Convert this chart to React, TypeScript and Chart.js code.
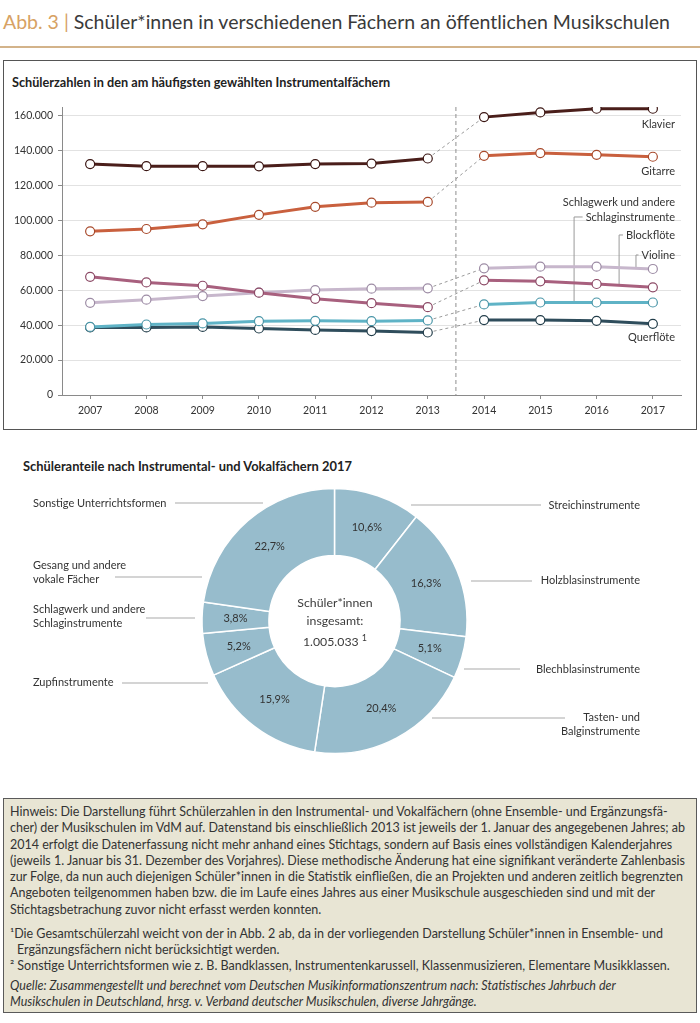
import React, { useEffect, useRef } from "react";
import { Chart, registerables } from "chart.js";

Chart.register(...registerables);

const FONT = "Lato, 'Open Sans', sans-serif";
Chart.defaults.font.family = FONT;

// ---------- Line chart data ----------
const years = ["2007", "2008", "2009", "2010", "2011", "2012", "2013", "2014", "2015", "2016", "2017"];
const klavier = [132300, 131100, 131100, 131000, 132300, 132600, 135500, 159200, 161900, 164000, 164000];
const gitarre = [93800, 95100, 97800, 103200, 107800, 110200, 110600, 137000, 138600, 137600, 136500];
const schlagwerk = [39000, 40400, 41000, 42300, 42500, 42300, 42700, 51900, 53000, 53000, 53000];
const blockfloete = [67700, 64500, 62600, 58600, 55100, 52600, 50300, 65700, 65100, 63600, 61700];
const violine = [52800, 54600, 56700, 58600, 60100, 60900, 61100, 72600, 73500, 73500, 72200];
const querfloete = [38700, 38700, 39000, 38100, 37300, 36600, 35800, 42900, 42900, 42500, 40800];
const seriesNames = ["Klavier", "Gitarre", "Schlagwerk und andere Schlaginstrumente", "Blockflöte", "Violine", "Querflöte"];
const yTickValues = [0, 20000, 40000, 60000, 80000, 100000, 120000, 140000, 160000];
const yMax = 165000;

// ---------- Doughnut data ----------
const shareLabels = [
  "Streichinstrumente",
  "Holzblasinstrumente",
  "Blechblasinstrumente",
  "Tasten- und Balginstrumente",
  "Zupfinstrumente",
  "Schlagwerk und andere Schlaginstrumente",
  "Gesang und andere vokale Fächer",
  "Sonstige Unterrichtsformen",
];
const shareValues = [10.6, 16.3, 5.1, 20.4, 15.9, 5.2, 3.8, 22.7];
const totalStudents = "1.005.033";

const fmtThousands = (v: number) => String(v).replace(/\B(?=(\d{3})+(?!\d))/g, ".");
const fmtPct = (v: number) => v.toFixed(1).replace(".", ",") + "%";
const interp = (arr: number[], f: number) => {
  const i = Math.floor(f);
  const t = f - i;
  const j = Math.min(i + 1, arr.length - 1);
  return arr[i] + (arr[j] - arr[i]) * t;
};

function LineChart() {
  const ref = useRef<HTMLCanvasElement>(null);
  useEffect(() => {
    const series = [klavier, gitarre, schlagwerk, blockfloete, violine, querfloete];
    const colors = ["#4a1e1a", "#c9603e", "#5fb3c6", "#a8607e", "#c7b7cc", "#2f4d5c"];
    const pointBorders = ["#3a1512", "#a84a2c", "#4a96a8", "#8c4a66", "#9d8ca5", "#223d4a"];
    const breakIndex = 6;

    const guides = {
      id: "guides",
      beforeDatasetsDraw(chart: any) {
        const { ctx, chartArea, scales } = chart;
        const xs = scales.x;
        const ys = scales.y;
        ctx.save();
        const sx = xs.getPixelForValue(breakIndex + 0.5);
        ctx.strokeStyle = "#8e8e8e";
        ctx.lineWidth = 1;
        ctx.setLineDash([4, 3]);
        ctx.beginPath();
        ctx.moveTo(sx, chartArea.top);
        ctx.lineTo(sx, chartArea.bottom);
        ctx.stroke();
        ctx.setLineDash([]);

        ctx.font = `11px ${FONT}`;
        const rx = chartArea.right - 6;
        const vy = ys.getPixelForValue(violine[violine.length - 1]);
        const leaders = [
          { text: "Schlaginstrumente", y: vy - 52, arr: schlagwerk, at: 8.6 },
          { text: "Blockflöte", y: vy - 34, arr: blockfloete, at: 9.4 },
          { text: "Violine", y: vy - 14, arr: violine, at: 9.7 },
        ];
        ctx.strokeStyle = "#9a9a9a";
        ctx.lineWidth = 1;
        leaders.forEach((l) => {
          const w = ctx.measureText(l.text).width;
          const x = xs.getPixelForValue(l.at);
          const yb = ys.getPixelForValue(interp(l.arr, l.at));
          ctx.beginPath();
          ctx.moveTo(rx - w - 3, l.y);
          ctx.lineTo(x, l.y);
          ctx.lineTo(x, yb);
          ctx.stroke();
        });
        ctx.restore();
      },
      afterDatasetsDraw(chart: any) {
        const { ctx, chartArea, scales } = chart;
        const ys = scales.y;
        const rx = chartArea.right - 6;
        const lastY = (arr: number[]) => ys.getPixelForValue(arr[arr.length - 1]);
        const vy = lastY(violine);
        ctx.save();
        ctx.font = `11px ${FONT}`;
        ctx.fillStyle = "#333";
        ctx.textAlign = "right";
        ctx.textBaseline = "middle";
        ctx.fillText("Klavier", rx, lastY(klavier) + 16);
        ctx.fillText("Gitarre", rx, lastY(gitarre) + 15);
        ctx.fillText("Querflöte", rx, lastY(querfloete) + 14);
        ctx.fillText("Schlagwerk und andere", rx, vy - 67);
        ctx.fillText("Schlaginstrumente", rx, vy - 52);
        ctx.fillText("Blockflöte", rx, vy - 34);
        ctx.fillText("Violine", rx, vy - 14);
        ctx.restore();
      },
    };

    const datasets = series.map((data, i) => ({
      label: seriesNames[i],
      data,
      borderColor: colors[i],
      borderWidth: 3,
      pointRadius: 4.5,
      pointBackgroundColor: "#ffffff",
      pointBorderColor: pointBorders[i],
      pointBorderWidth: 1.2,
      tension: 0,
      fill: false,
      segment: {
        borderColor: (c: any) => (c.p0DataIndex === breakIndex ? "#9a9a9a" : undefined),
        borderDash: (c: any) => (c.p0DataIndex === breakIndex ? [3, 3] : undefined),
        borderWidth: (c: any) => (c.p0DataIndex === breakIndex ? 1 : undefined),
      },
    }));

    const chart = new Chart(ref.current as HTMLCanvasElement, {
      type: "line",
      data: { labels: years, datasets },
      options: {
        animation: false,
        responsive: false,
        maintainAspectRatio: false,
        layout: { padding: { left: 0, right: 16, top: 12, bottom: 0 } },
        plugins: { legend: { display: false }, tooltip: { enabled: false } },
        scales: {
          x: {
            type: "category",
            offset: true,
            grid: { display: true, drawOnChartArea: false, drawTicks: true, tickLength: 4, tickColor: "#8a8a8a", offset: false },
            border: { color: "#8a8a8a", width: 1 },
            ticks: { color: "#333", font: { size: 10.5 }, padding: 5, maxRotation: 0, autoSkip: false },
            afterFit: (s: any) => {
              s.height = 30;
            },
          },
          y: {
            min: 0,
            max: yMax,
            afterBuildTicks: (axis: any) => {
              axis.ticks = yTickValues.map((v) => ({ value: v }));
            },
            ticks: { color: "#333", font: { size: 10.5 }, padding: 5, callback: (v: any) => fmtThousands(Number(v)) },
            grid: { color: "#e2e2e2", tickColor: "#8a8a8a", tickLength: 4, drawTicks: true },
            border: { color: "#8a8a8a", width: 1 },
            afterFit: (s: any) => {
              s.width = 59;
            },
          },
        },
      } as any,
      plugins: [guides],
    });
    return () => chart.destroy();
  }, []);
  return <canvas ref={ref} width={694} height={330} style={{ position: "absolute", left: 3, top: 95, width: 694, height: 330 }} />;
}

function DonutChart() {
  const ref = useRef<HTMLCanvasElement>(null);
  useEffect(() => {
    // label layout relative to the doughnut centre: text x/y, line from lx0 to lx1 at ly, words before line break
    const layout = [
      { side: "R", tx: 305.5, ty: -116, lx0: 76.5, lx1: 206.5, ly: -116, br: 0 },
      { side: "R", tx: 305.5, ty: -41, lx0: 136.5, lx1: 197.5, ly: -40, br: 0 },
      { side: "R", tx: 305.5, ty: 48, lx0: 129.5, lx1: 185.5, ly: 48, br: 0 },
      { side: "R", tx: 305.5, ty: 96, lx0: 97.5, lx1: 230.5, ly: 97, br: 2 },
      { side: "L", tx: -301.5, ty: 61, lx0: -212.5, lx1: -126.5, ly: 62, br: 0 },
      { side: "L", tx: -301.5, ty: -12, lx0: -188.5, lx1: -139.5, ly: -3, br: 3 },
      { side: "L", tx: -301.5, ty: -56, lx0: -219.5, lx1: -132.5, ly: -44, br: 3 },
      { side: "L", tx: -301.5, ty: -118, lx0: -159.5, lx1: -71.5, ly: -118, br: 0 },
    ];
    const labelsPlugin = {
      id: "donutLabels",
      afterDatasetsDraw(chart: any) {
        const { ctx } = chart;
        const arcs = chart.getDatasetMeta(0).data;
        const cx = arcs[0].x;
        const cy = arcs[0].y;
        ctx.save();
        ctx.font = `11px ${FONT}`;
        ctx.fillStyle = "#333";
        ctx.textAlign = "center";
        ctx.textBaseline = "middle";
        arcs.forEach((arc: any, i: number) => {
          const p = arc.getProps(["startAngle", "endAngle", "innerRadius", "outerRadius"], true);
          const mid = (p.startAngle + p.endAngle) / 2;
          const r = (p.innerRadius + p.outerRadius) / 2;
          ctx.fillText(fmtPct(shareValues[i]), cx + Math.cos(mid) * r, cy + Math.sin(mid) * r);
        });
        ctx.strokeStyle = "#c6c6c6";
        ctx.lineWidth = 1.5;
        layout.forEach((o, i) => {
          ctx.beginPath();
          ctx.moveTo(cx + o.lx0, cy + o.ly);
          ctx.lineTo(cx + o.lx1, cy + o.ly);
          ctx.stroke();
          const words = shareLabels[i].split(" ");
          const lines = o.br ? [words.slice(0, o.br).join(" "), words.slice(o.br).join(" ")] : [shareLabels[i]];
          ctx.textAlign = o.side === "R" ? "right" : "left";
          lines.forEach((t, k) => ctx.fillText(t, cx + o.tx, cy + o.ty + k * 14));
        });
        ctx.restore();
      },
    };
    const chart = new Chart(ref.current as HTMLCanvasElement, {
      type: "doughnut",
      data: {
        labels: shareLabels,
        datasets: [
          {
            data: shareValues,
            backgroundColor: "#97bccc",
            borderColor: "#ffffff",
            borderWidth: 1.5,
          },
        ],
      },
      options: {
        animation: false,
        responsive: false,
        maintainAspectRatio: false,
        cutout: "49.5%",
        layout: { padding: { left: 150, right: 181, top: 17.75, bottom: 15.75 } },
        plugins: { legend: { display: false }, tooltip: { enabled: false } },
      } as any,
      plugins: [labelsPlugin],
    });
    return () => chart.destroy();
  }, []);
  return <canvas ref={ref} width={700} height={300} style={{ position: "absolute", left: 0, top: 470, width: 700, height: 300 }} />;
}

const footerLines = [
  "Hinweis: Die Darstellung führt Schülerzahlen in den Instrumental- und Vokalfächern (ohne Ensemble- und Ergänzungsfä-",
  "cher) der Musikschulen im VdM auf. Datenstand bis einschließlich 2013 ist jeweils der 1. Januar des angegebenen Jahres; ab",
  "2014 erfolgt die Datenerfassung nicht mehr anhand eines Stichtags, sondern auf Basis eines vollständigen Kalenderjahres",
  "(jeweils 1. Januar bis 31. Dezember des Vorjahres). Diese methodische Änderung hat eine signifikant veränderte Zahlenbasis",
  "zur Folge, da nun auch diejenigen Schüler*innen in die Statistik einfließen, die an Projekten und anderen zeitlich begrenzten",
  "Angeboten teilgenommen haben bzw. die im Laufe eines Jahres aus einer Musikschule ausgeschieden sind und mit der",
  "Stichtagsbetrachung zuvor nicht erfasst werden konnten.",
];
const noteLines = [
  "¹Die Gesamtschülerzahl weicht von der in Abb. 2 ab, da in der vorliegenden Darstellung Schüler*innen in Ensemble- und",
  "Ergänzungsfächern nicht berücksichtigt werden.",
  "² Sonstige Unterrichtsformen wie z. B. Bandklassen, Instrumentenkarussell, Klassenmusizieren, Elementare Musikklassen.",
];
const sourceLines = [
  "Quelle: Zusammengestellt und berechnet vom Deutschen Musikinformationszentrum nach: Statistisches Jahrbuch der",
  "Musikschulen in Deutschland, hrsg. v. Verband deutscher Musikschulen, diverse Jahrgänge.",
];

export default function App() {
  const lineStyle: React.CSSProperties = { height: 16.3, lineHeight: "16.3px", whiteSpace: "nowrap" };
  return (
    <div
      style={{
        position: "absolute",
        left: 0,
        top: 0,
        width: 700,
        height: 1023,
        background: "#fff",
        fontFamily: FONT,
        color: "#333",
        overflow: "hidden",
      }}
    >
      <div style={{ position: "absolute", left: 3, top: 9, fontSize: 19.5, lineHeight: "26px", whiteSpace: "nowrap", color: "#3a3a3a" }}>
        <span style={{ color: "#d7a264" }}>Abb. 3 | </span>
        Schüler*innen in verschiedenen Fächern an öffentlichen Musikschulen
      </div>
      <div style={{ position: "absolute", left: 0, top: 46, width: 700, height: 1.5, background: "#d3b38a" }} />

      <div
        style={{
          position: "absolute",
          left: 3,
          top: 60,
          width: 694,
          height: 370,
          border: "1.5px solid #555",
          boxSizing: "border-box",
        }}
      />
      <div style={{ position: "absolute", left: 12, top: 74, fontSize: 12.7, fontWeight: 700, lineHeight: "16px", whiteSpace: "nowrap", color: "#222" }}>
        Schülerzahlen in den am häufigsten gewählten Instrumentalfächern
      </div>
      <LineChart />

      <div style={{ position: "absolute", left: 23, top: 458, fontSize: 12.9, fontWeight: 700, lineHeight: "16px", whiteSpace: "nowrap", color: "#222" }}>
        Schüleranteile nach Instrumental- und Vokalfächern 2017
      </div>
      <DonutChart />
      <div
        style={{
          position: "absolute",
          left: 235,
          width: 200,
          top: 594,
          textAlign: "center",
          fontSize: 12.3,
          lineHeight: "17.5px",
          color: "#3c3c3c",
        }}
      >
        <div>Schüler*innen</div>
        <div>insgesamt:</div>
        <div>
          {totalStudents} <span style={{ fontSize: 9, verticalAlign: 5 }}>1</span>
        </div>
      </div>

      <div
        style={{
          position: "absolute",
          left: 3,
          top: 798,
          width: 694,
          height: 215,
          background: "#e8e5d4",
          border: "1.5px solid #5a5a5a",
          boxSizing: "border-box",
          padding: "5px 0 0 6px",
          fontSize: 12.5,
          color: "#333",
          overflow: "hidden",
        }}
      >
        {footerLines.map((t, i) => (
          <div key={"f" + i} style={lineStyle}>
            {t}
          </div>
        ))}
        <div style={{ height: 7.5 }} />
        {noteLines.map((t, i) => (
          <div key={"n" + i} style={{ ...lineStyle, paddingLeft: i === 1 ? 7 : 0 }}>
            {t}
          </div>
        ))}
        <div style={{ height: 3.7 }} />
        {sourceLines.map((t, i) => (
          <div key={"s" + i} style={{ ...lineStyle, fontStyle: "italic" }}>
            {t}
          </div>
        ))}
      </div>
    </div>
  );
}
